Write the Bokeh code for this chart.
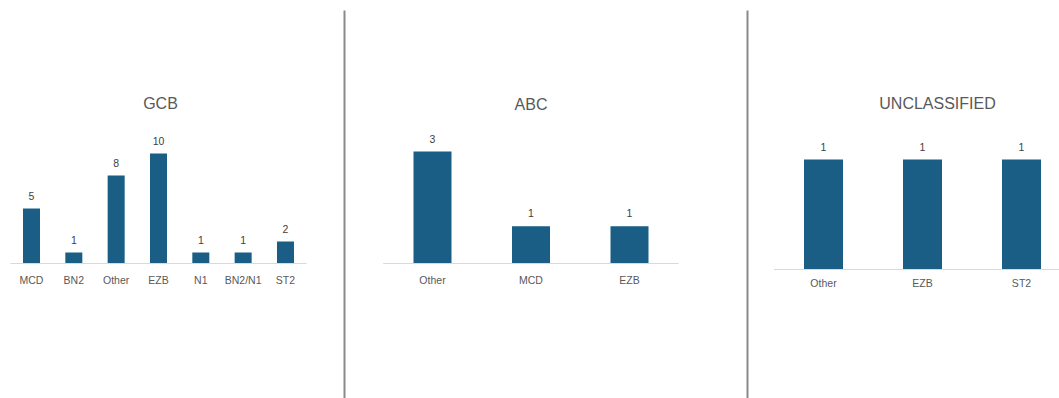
from bokeh.plotting import figure
from bokeh.layouts import row
from bokeh.models import Range1d, ColumnDataSource
from bokeh.core.properties import value
from bokeh.embed import file_html
from bokeh.resources import INLINE

# ---- data ----
gcb_categories = ["MCD", "BN2", "Other", "EZB", "N1", "BN2/N1", "ST2"]
gcb_values = [5, 1, 8, 10, 1, 1, 2]

abc_categories = ["Other", "MCD", "EZB"]
abc_values = [3, 1, 1]

uncl_categories = ["Other", "EZB", "ST2"]
uncl_values = [1, 1, 1]

titles = ["GCB", "ABC", "UNCLASSIFIED"]

BAR = "#1a5e85"
TXT = "#595959"
FONT = "Liberation Sans"
H = 398


def panel(cats, vals, title, left, right, first_px, step, baseline_px, px_per_unit,
          bar_px, title_dy, title_dx, cat_dy, divider_px=None):
    w = right - left
    xs = list(range(len(cats)))
    x0 = (left - first_px) / step
    x1 = (right - first_px) / step
    y0 = -(H - baseline_px) / px_per_unit
    y1 = baseline_px / px_per_unit
    p = figure(width=w, height=H, x_range=Range1d(x0, x1), y_range=Range1d(y0, y1),
               output_backend="svg", toolbar_location=None,
               x_axis_location=None, y_axis_location=None,
               min_border=0, outline_line_color=None)
    p.xgrid.visible = False
    p.ygrid.visible = False
    src = ColumnDataSource(dict(x=xs, top=vals, cat=cats, lab=[str(v) for v in vals]))
    p.vbar(x="x", top="top", bottom=0, width=bar_px / step, source=src,
           fill_color=BAR, line_color=None)
    # baseline
    p.segment(x0=[-0.5], y0=[0], x1=[len(cats) - 0.5], y1=[0],
              line_color="#d9d9d9", line_width=1.2)
    # value labels
    p.text(x="x", y="top", text="lab", source=src, text_align="center",
           text_baseline="middle", y_offset=-13, text_font=value(FONT),
           text_font_size="10.5px", text_color="#404040")
    # category labels
    p.text(x="x", y=0, text="cat", source=src, text_align="center",
           text_baseline="middle", y_offset=cat_dy, text_font=value(FONT),
           text_font_size="10.5px", text_color=TXT)
    # title
    p.text(x=[(len(cats) - 1) / 2], y=[0], text=[title], text_align="center",
           text_baseline="middle", x_offset=title_dx, y_offset=-title_dy,
           text_font=value(FONT), text_font_size="16px", text_color=TXT)
    if divider_px is not None:
        dx = (divider_px - first_px) / step
        p.segment(x0=[dx], y0=[(baseline_px - 10) / px_per_unit], x1=[dx], y1=[y0],
                  line_color="#8a8a8a", line_width=2)
    return p


p1 = panel(gcb_categories, gcb_values, titles[0], 0, 342, 31, 42.33, 263, 11.0,
           17, 160, 2, 16)
p2 = panel(abc_categories, abc_values, titles[1], 342, 745, 432, 98.5, 263, 37.33,
           38, 159, 0, 16, divider_px=344)
p3 = panel(uncl_categories, uncl_values, titles[2], 745, 1059, 823, 99.0, 269, 110.0,
           39, 166, 15, 13, divider_px=747)

layout = row(p1, p2, p3, spacing=0)
open("out.html", "w").write(file_html(layout, INLINE))
